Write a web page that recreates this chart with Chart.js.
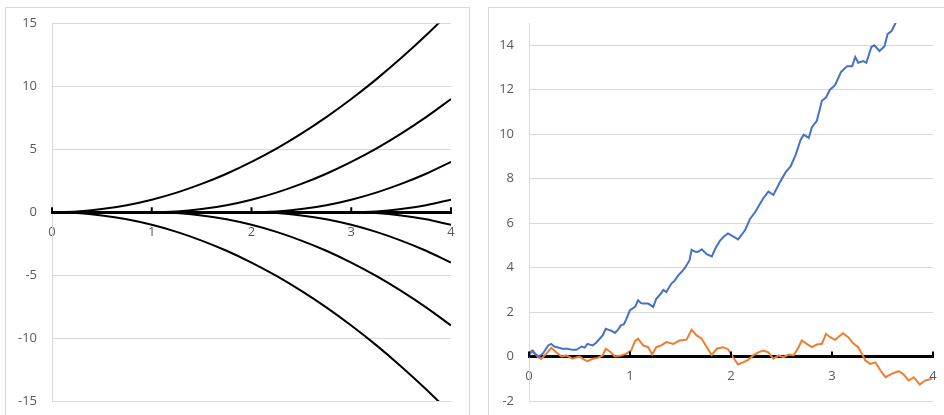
<!DOCTYPE html>
<html>
<head>
<meta charset="utf-8">
<script src="https://cdn.jsdelivr.net/npm/chart.js@4/dist/chart.umd.min.js"></script>
<style>
  html, body { margin: 0; padding: 0; background: #fff; overflow: hidden; width: 944px; height: 415px; }
  .panel { position: absolute; border: 1px solid #d9d9d9; background: #fff; }
  #leftBox { left: 5px; top: 7px; width: 463px; height: 420px; }
  #rightBox { left: 488px; top: 7px; width: 470px; height: 420px; }
  canvas { position: absolute; left: 0; top: 0; }
</style>
</head>
<body>
<div class="panel" id="leftBox"><canvas id="left" width="463" height="420"></canvas></div>
<div class="panel" id="rightBox"><canvas id="right" width="470" height="420"></canvas></div>
<script>
// LEFT CHART DATA (x step 0.25)
const leftX = [0, 0.25, 0.5, 0.75, 1, 1.25, 1.5, 1.75, 2, 2.25, 2.5, 2.75, 3, 3.25, 3.5, 3.75, 4];
const up0 = [0, 0.06, 0.25, 0.56, 1, 1.56, 2.25, 3.06, 4, 5.06, 6.25, 7.56, 9, 10.56, 12.25, 14.06, 16];
const up1 = [0, 0, 0, 0, 0, 0.06, 0.25, 0.56, 1, 1.56, 2.25, 3.06, 4, 5.06, 6.25, 7.56, 9];
const up2 = [0, 0, 0, 0, 0, 0, 0, 0, 0, 0.06, 0.25, 0.56, 1, 1.56, 2.25, 3.06, 4];
const up3 = [0, 0, 0, 0, 0, 0, 0, 0, 0, 0, 0, 0, 0, 0.06, 0.25, 0.56, 1];
const down0 = [0, -0.06, -0.25, -0.56, -1, -1.56, -2.25, -3.06, -4, -5.06, -6.25, -7.56, -9, -10.56, -12.25, -14.06, -16];
const down1 = [0, 0, 0, 0, 0, -0.06, -0.25, -0.56, -1, -1.56, -2.25, -3.06, -4, -5.06, -6.25, -7.56, -9];
const down2 = [0, 0, 0, 0, 0, 0, 0, 0, 0, -0.06, -0.25, -0.56, -1, -1.56, -2.25, -3.06, -4];
const down3 = [0, 0, 0, 0, 0, 0, 0, 0, 0, 0, 0, 0, 0, -0.06, -0.25, -0.56, -1];
const leftYTicks = [-15, -10, -5, 0, 5, 10, 15];

// RIGHT CHART DATA
const blueX = [0, 0.03, 0.06, 0.1, 0.14, 0.19, 0.22, 0.25, 0.28, 0.33, 0.38, 0.43, 0.47, 0.52, 0.55, 0.58, 0.63, 0.66, 0.7, 0.73,
  0.76, 0.79, 0.81, 0.85, 0.88, 0.91, 0.94, 0.96, 1, 1.05, 1.08, 1.11, 1.13, 1.18, 1.23, 1.26, 1.3, 1.33, 1.36, 1.41,
  1.44, 1.48, 1.51, 1.54, 1.59, 1.61, 1.64, 1.67, 1.71, 1.76, 1.81, 1.85, 1.89, 1.93, 1.97, 2.02, 2.07, 2.11, 2.14, 2.19,
  2.24, 2.28, 2.32, 2.37, 2.42, 2.48, 2.54, 2.59, 2.64, 2.69, 2.72, 2.77, 2.8, 2.85, 2.9, 2.94, 2.98, 3.03, 3.09, 3.15,
  3.2, 3.23, 3.26, 3.31, 3.34, 3.39, 3.42, 3.47, 3.52, 3.55, 3.59, 3.64];
const blueY = [0.05, 0.25, 0.1, 0, 0.15, 0.5, 0.57, 0.45, 0.42, 0.35, 0.35, 0.3, 0.3, 0.45, 0.4, 0.57, 0.5, 0.6, 0.8, 0.95,
  1.25, 1.2, 1.17, 1.06, 1.2, 1.4, 1.45, 1.65, 2.08, 2.23, 2.53, 2.4, 2.38, 2.38, 2.23, 2.6, 2.8, 3.0, 2.9, 3.28,
  3.4, 3.66, 3.8, 3.96, 4.33, 4.8, 4.72, 4.7, 4.82, 4.6, 4.5, 4.9, 5.2, 5.4, 5.54, 5.4, 5.27, 5.5, 5.69, 6.2,
  6.5, 6.82, 7.12, 7.42, 7.27, 7.8, 8.28, 8.55, 9.07, 9.75, 9.98, 9.83, 10.3, 10.6, 11.5, 11.65, 12.0, 12.2, 12.8, 13.06,
  13.06, 13.47, 13.21, 13.29, 13.21, 13.92, 14.0, 13.74, 13.96, 14.5, 14.64, 15.1];
const orangeX = [0, 0.04, 0.09, 0.12, 0.17, 0.22, 0.27, 0.32, 0.37, 0.43, 0.5, 0.55, 0.58, 0.63, 0.68, 0.73, 0.76, 0.81, 0.85, 0.91,
  0.96, 1.01, 1.05, 1.08, 1.13, 1.18, 1.22, 1.26, 1.31, 1.36, 1.43, 1.49, 1.56, 1.61, 1.66, 1.71, 1.75, 1.81, 1.86, 1.92,
  1.97, 2.02, 2.07, 2.12, 2.17, 2.22, 2.27, 2.32, 2.37, 2.42, 2.47, 2.52, 2.57, 2.62, 2.67, 2.7, 2.75, 2.8, 2.85, 2.9,
  2.94, 2.98, 3.03, 3.06, 3.11, 3.16, 3.21, 3.26, 3.3, 3.33, 3.38, 3.43, 3.48, 3.53, 3.59, 3.66, 3.71, 3.76, 3.81, 3.87,
  3.92, 3.99];
const orangeY = [0.19, 0.27, -0.03, -0.1, 0.12, 0.39, 0.19, 0, 0.05, -0.1, 0, -0.15, -0.21, -0.1, -0.06, 0.05, 0.35, 0.19, 0, 0.05,
  0.12, 0.27, 0.69, 0.8, 0.5, 0.42, 0.09, 0.42, 0.5, 0.65, 0.57, 0.72, 0.76, 1.2, 0.95, 0.8, 0.5, 0.07, 0.35, 0.42,
  0.33, -0.03, -0.36, -0.26, -0.15, 0.05, 0.19, 0.27, 0.19, -0.1, 0.05, -0.03, 0.09, 0.05, 0.42, 0.72, 0.57, 0.42, 0.54, 0.57,
  1.02, 0.87, 0.75, 0.87, 1.05, 0.87, 0.6, 0.42, 0.09, -0.18, -0.33, -0.26, -0.63, -0.93, -0.78, -0.66, -0.81, -1.08, -0.93, -1.26,
  -1.08, -1.0];

const xTicks = [0, 1, 2, 3, 4];

const FONT = { family: "'Open Sans', 'Liberation Sans', sans-serif", size: 13 };
const LABEL = '#595959';
const GRID = '#d9d9d9';

function pts(xs, ys) {
  return xs.map((x, i) => ({ x: x, y: ys[i] }));
}

// cross tick marks on the black x axis
const axisTicks = {
  id: 'axisTicks',
  afterDraw(chart) {
    const xs = chart.scales.x, ys = chart.scales.y, ctx = chart.ctx;
    const y0 = ys.getPixelForValue(0);
    ctx.save();
    ctx.strokeStyle = '#000';
    ctx.lineWidth = 2;
    xTicks.forEach(v => {
      const px = xs.getPixelForValue(v);
      ctx.beginPath();
      ctx.moveTo(px, y0 - 5);
      ctx.lineTo(px, y0 + 1);
      ctx.stroke();
    });
    ctx.restore();
  }
};

function xAxis() {
  return {
    type: 'linear', min: 0, max: 4, position: { y: 0 }, z: 1,
    afterBuildTicks: s => { s.ticks = xTicks.map(v => ({ value: v })); },
    afterFit: s => { s.paddingLeft = 0; s.paddingRight = 0; s.paddingTop = 0; s.paddingBottom = 0; },
    grid: { display: false },
    border: { display: true, color: '#000', width: 3 },
    ticks: { color: LABEL, font: FONT, padding: 4, maxRotation: 0 }
  };
}

function yAxis(min, max, ticks, width) {
  return {
    min: min, max: max,
    afterBuildTicks: s => { s.ticks = ticks.map(v => ({ value: v })); },
    afterFit: s => { s.width = width; s.paddingTop = 0; s.paddingBottom = 0; },
    grid: { color: GRID, lineWidth: 1, drawTicks: false },
    border: { display: true, color: GRID, width: 1 },
    ticks: { color: LABEL, font: FONT, padding: 15 }
  };
}

const black = d => ({ data: d, borderColor: '#000', borderWidth: 2, pointRadius: 0, cubicInterpolationMode: 'monotone' });

new Chart(document.getElementById('left'), {
  type: 'line',
  data: {
    datasets: [up0, up1, up2, up3, down0, down1, down2, down3].map(a => black(pts(leftX, a)))
  },
  options: {
    responsive: false, animation: false,
    layout: { padding: { top: 15.5, bottom: 27, right: 18, left: 0 } },
    plugins: { legend: { display: false }, tooltip: { enabled: false } },
    scales: { x: xAxis(), y: yAxis(-15, 15, leftYTicks, 46) }
  },
  plugins: [axisTicks]
});

const rightYTicks = [-2, 0, 2, 4, 6, 8, 10, 12, 14];

new Chart(document.getElementById('right'), {
  type: 'line',
  data: {
    datasets: [
      { data: pts(blueX, blueY), borderColor: '#4472C4', borderWidth: 2, pointRadius: 0 },
      { data: pts(orangeX, orangeY), borderColor: '#ED7D31', borderWidth: 2, pointRadius: 0 }
    ]
  },
  options: {
    responsive: false, animation: false,
    layout: { padding: { top: 15, bottom: 27, right: 26, left: 0 } },
    plugins: { legend: { display: false }, tooltip: { enabled: false } },
    scales: { x: xAxis(), y: yAxis(-2, 15, rightYTicks, 40) }
  },
  plugins: [axisTicks]
});
</script>
</body>
</html>
